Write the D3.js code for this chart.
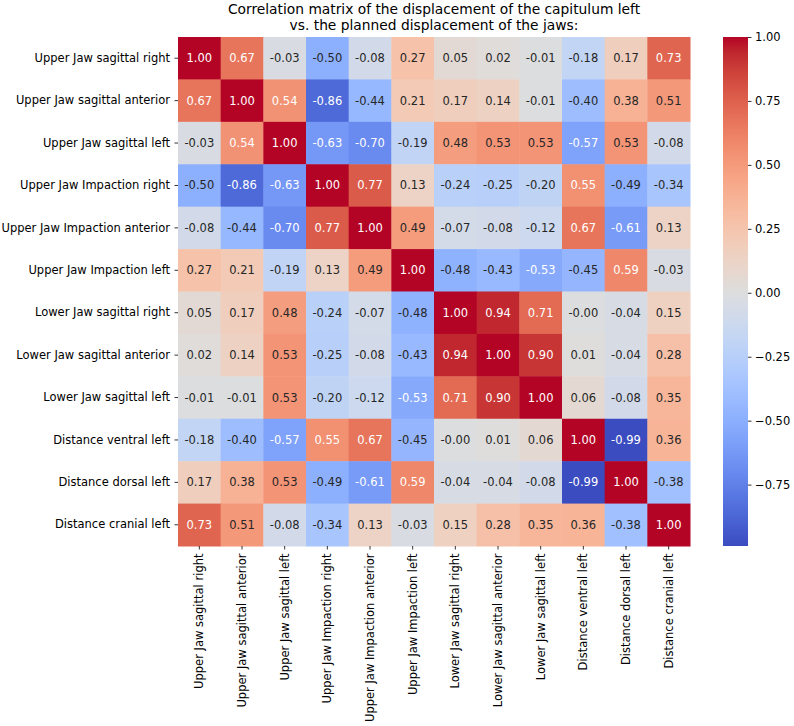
<!DOCTYPE html>
<html>
<head>
<meta charset="utf-8">
<script src="https://cdn.jsdelivr.net/npm/d3@7"></script>
<style>
    body { margin: 0; background: #fff; }
    text { font-family: "DejaVu Sans", sans-serif; }
</style>
</head>
<body>
<svg></svg>
<script>
var labels = [
    "Upper Jaw sagittal right",
    "Upper Jaw sagittal anterior",
    "Upper Jaw sagittal left",
    "Upper Jaw Impaction right",
    "Upper Jaw Impaction anterior",
    "Upper Jaw Impaction left",
    "Lower Jaw sagittal right",
    "Lower Jaw sagittal anterior",
    "Lower Jaw sagittal left",
    "Distance ventral left",
    "Distance dorsal left",
    "Distance cranial left"
];

var corr = [
    [ 1.00,  0.67, -0.03, -0.50, -0.08,  0.27,  0.05,  0.02, -0.01, -0.18,  0.17,  0.73],
    [ 0.67,  1.00,  0.54, -0.86, -0.44,  0.21,  0.17,  0.14, -0.01, -0.40,  0.38,  0.51],
    [-0.03,  0.54,  1.00, -0.63, -0.70, -0.19,  0.48,  0.53,  0.53, -0.57,  0.53, -0.08],
    [-0.50, -0.86, -0.63,  1.00,  0.77,  0.13, -0.24, -0.25, -0.20,  0.55, -0.49, -0.34],
    [-0.08, -0.44, -0.70,  0.77,  1.00,  0.49, -0.07, -0.08, -0.12,  0.67, -0.61,  0.13],
    [ 0.27,  0.21, -0.19,  0.13,  0.49,  1.00, -0.48, -0.43, -0.53, -0.45,  0.59, -0.03],
    [ 0.05,  0.17,  0.48, -0.24, -0.07, -0.48,  1.00,  0.94,  0.71, -0.001, -0.04,  0.15],
    [ 0.02,  0.14,  0.53, -0.25, -0.08, -0.43,  0.94,  1.00,  0.90,  0.01, -0.04,  0.28],
    [-0.01, -0.01,  0.53, -0.20, -0.12, -0.53,  0.71,  0.90,  1.00,  0.06, -0.08,  0.35],
    [-0.18, -0.40, -0.57,  0.55,  0.67, -0.45, -0.001, 0.01,  0.06,  1.00, -0.99,  0.36],
    [ 0.17,  0.38,  0.53, -0.49, -0.61,  0.59, -0.04, -0.04, -0.08, -0.99,  1.00, -0.38],
    [ 0.73,  0.51, -0.08, -0.34,  0.13, -0.03,  0.15,  0.28,  0.35,  0.36, -0.38,  1.00]
];

var cbTicks = [1.00, 0.75, 0.50, 0.25, 0.00, -0.25, -0.50, -0.75];
var titleLines = [
    "Correlation matrix of the displacement of the capitulum left",
    "vs. the planned displacement of the jaws:"
];

var vmin = -0.99, vmax = 1.00;

// matplotlib "coolwarm" control points
var cw = ["#3b4cc0","#445acc","#4d68d7","#5775e1","#6282ea","#6c8ef1","#779af7","#82a5fb",
          "#8db0fe","#98b9ff","#a3c2ff","#aec9fd","#b8d0f9","#c2d5f4","#ccd9ee","#d5dbe6",
          "#dddddd","#e5d8d1","#ecd3c5","#f1ccb9","#f5c4ad","#f7bba0","#f7b194","#f7a687",
          "#f49a7b","#f18d6f","#ec7f63","#e57058","#de604d","#d55042","#cb3e38","#c0282f","#b40426"];
var cwStops = cw.map(function (d, i) { return i / (cw.length - 1); });
var cmap = d3.scaleLinear().domain(cwStops).range(cw).interpolate(d3.interpolateRgb).clamp(true);
var color = function (v) { return cmap((v - vmin) / (vmax - vmin)); };

function lum(c) {
    var rgb = d3.rgb(c);
    var f = function (x) {
        x = x / 255;
        return x <= 0.03928 ? x / 12.92 : Math.pow((x + 0.055) / 1.055, 2.4);
    };
    return 0.2126 * f(rgb.r) + 0.7152 * f(rgb.g) + 0.0722 * f(rgb.b);
}

var w = 794, h = 726;
var mLeft = 178, mTop = 37, mRight = 690, mBottom = 546;
var fs = 11.5;

var svg = d3.select("svg")
    .attr("width", w)
    .attr("height", h);

var x = d3.scaleBand().domain(d3.range(labels.length)).range([mLeft, mRight]);
var y = d3.scaleBand().domain(d3.range(labels.length)).range([mTop, mBottom]);

var cells = [];
corr.forEach(function (row, i) {
    row.forEach(function (v, j) {
        cells.push({ r: i, c: j, v: v });
    });
});

svg.selectAll("rect.cell")
    .data(cells)
    .enter()
    .append("rect")
    .attr("class", "cell")
    .attr("x", function (d) { return x(d.c); })
    .attr("y", function (d) { return y(d.r); })
    .attr("width", x.bandwidth() + 0.5)
    .attr("height", y.bandwidth() + 0.5)
    .attr("fill", function (d) { return color(d.v); });

svg.selectAll("text.annot")
    .data(cells)
    .enter()
    .append("text")
    .attr("class", "annot")
    .attr("x", function (d) { return x(d.c) + x.bandwidth() / 2; })
    .attr("y", function (d) { return y(d.r) + y.bandwidth() / 2; })
    .attr("text-anchor", "middle")
    .attr("dominant-baseline", "central")
    .attr("font-size", fs)
    .attr("fill", function (d) { return lum(color(d.v)) < 0.408 ? "#ffffff" : "#262626"; })
    .text(function (d) { return (d.v < 0 ? "-" : "") + Math.abs(d.v).toFixed(2); });

// axes
var yAxis = d3.axisLeft(y).tickSize(3.5).tickPadding(4.5)
    .tickFormat(function (i) { return labels[i]; });
var gy = svg.append("g").attr("transform", "translate(" + mLeft + ",0)").call(yAxis);

var xAxis = d3.axisBottom(x).tickSize(3.5).tickPadding(3.5)
    .tickFormat(function (i) { return labels[i]; });
var gx = svg.append("g").attr("transform", "translate(0," + mBottom + ")").call(xAxis);

[gx, gy].forEach(function (g) {
    g.select(".domain").remove();
    g.selectAll("line").attr("stroke", "#000").attr("stroke-width", 0.8);
    g.selectAll("text").attr("font-size", fs).attr("fill", "#000")
        .attr("font-family", "DejaVu Sans, sans-serif");
});

gx.selectAll("text")
    .attr("transform", "rotate(-90)")
    .attr("text-anchor", "end")
    .attr("dy", "0.35em")
    .attr("x", -7.5)
    .attr("y", 0);

// colorbar
var cbX = 723, cbW = 25;
var cy = d3.scaleLinear().domain([vmin, vmax]).range([mBottom, mTop]);
var grad = svg.append("defs").append("linearGradient")
    .attr("id", "cb")
    .attr("x1", 0).attr("y1", 1).attr("x2", 0).attr("y2", 0);
grad.selectAll("stop")
    .data(cw)
    .enter()
    .append("stop")
    .attr("offset", function (d, i) { return cwStops[i]; })
    .attr("stop-color", function (d) { return d; });

svg.append("rect")
    .attr("x", cbX).attr("y", mTop)
    .attr("width", cbW).attr("height", mBottom - mTop)
    .attr("fill", "url(#cb)");

var cAxis = d3.axisRight(cy).tickValues(cbTicks).tickSize(3.5).tickPadding(3.5)
    .tickFormat(function (d) { return d3.format(".2f")(d).replace("-", "\u2212"); });
var gc = svg.append("g").attr("transform", "translate(" + (cbX + cbW) + ",0)").call(cAxis);
gc.select(".domain").remove();
gc.selectAll("line").attr("stroke", "#000").attr("stroke-width", 0.8);
gc.selectAll("text").attr("font-size", fs).attr("fill", "#000")
    .attr("font-family", "DejaVu Sans, sans-serif");

// title
svg.selectAll("text.title")
    .data(titleLines)
    .enter()
    .append("text")
    .attr("class", "title")
    .attr("x", (mLeft + mRight) / 2)
    .attr("y", function (d, i) { return 13.5 + i * 16.5; })
    .attr("text-anchor", "middle")
    .attr("font-size", 13.8)
    .attr("fill", "#000")
    .text(function (d) { return d; });
</script>
</body>
</html>
